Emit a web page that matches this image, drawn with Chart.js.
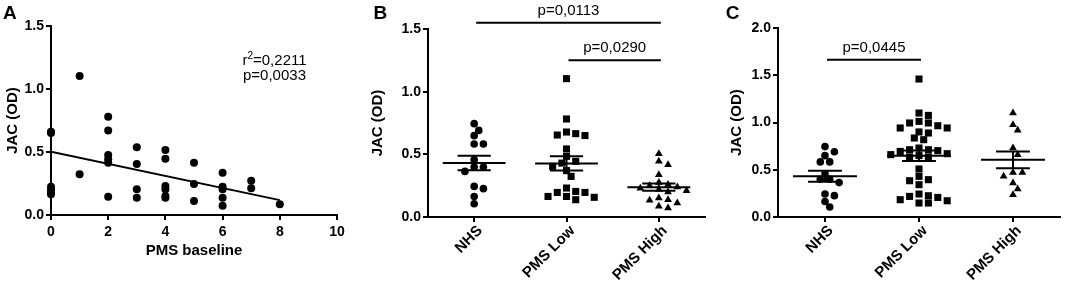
<!DOCTYPE html>
<html>
<head>
<meta charset="utf-8">
<script src="https://cdn.jsdelivr.net/npm/chart.js@4.4.0/dist/chart.umd.min.js"></script>
<style>
  html, body { margin: 0; padding: 0; background: #fff; }
  #wrap { position: relative; width: 1065px; height: 288px; overflow: hidden; }
  canvas { position: absolute; top: 0; }
</style>
</head>
<body>
<div id="wrap">
  <canvas id="chartA" width="360" height="288" style="left:0px"></canvas>
  <canvas id="chartB" width="350" height="288" style="left:360px"></canvas>
  <canvas id="chartC" width="355" height="288" style="left:710px"></canvas>
</div>
<script>
// A: JAC vs PMS baseline
const pmsBaseline = [0, 0, 0, 0, 0, 0, 1, 1, 2, 2, 2, 2, 2, 2, 3, 3, 3, 3, 4, 4, 4, 4, 4, 4, 5, 5, 5, 6, 6, 6, 6, 6, 7, 7, 8];
const jacA = [0.66, 0.65, 0.225, 0.20, 0.18, 0.165, 1.103, 0.323, 0.78, 0.67, 0.476, 0.442, 0.415, 0.145,
  0.537, 0.405, 0.204, 0.137, 0.516, 0.447, 0.23, 0.204, 0.151, 0.137, 0.415, 0.246, 0.111,
  0.336, 0.225, 0.204, 0.137, 0.074, 0.272, 0.212, 0.085];
const regIntercept = 0.502;
const regSlope = -0.048;
const regRange = [0, 8];
const statsA = ['r', '2', '=0,2211', 'p=0,0033'];

// B and C: groups
const groups = ['NHS', 'PMS Low', 'PMS High'];
const nhs = [0.745, 0.691, 0.649, 0.583, 0.583, 0.457, 0.399, 0.364, 0.399, 0.244, 0.226, 0.164, 0.106];
const pmsLowB = [1.104, 0.782, 0.678, 0.665, 0.654, 0.650, 0.543, 0.484, 0.444, 0.430, 0.404, 0.370, 0.324,
  0.231, 0.204, 0.196, 0.196, 0.164, 0.164, 0.157, 0.138];
const pmsHighB = [0.505, 0.444, 0.417, 0.338, 0.276, 0.260, 0.250, 0.240, 0.230, 0.220, 0.210, 0.200,
  0.152, 0.138, 0.133, 0.112, 0.085, 0.072];
const pmsLowC = [1.46, 1.10, 1.075, 1.012, 0.995, 0.995, 0.966, 0.942, 0.942, 0.90, 0.889, 0.836, 0.818,
  0.73, 0.712, 0.712, 0.702, 0.694, 0.67, 0.66, 0.65, 0.635, 0.635, 0.508, 0.43, 0.395, 0.384, 0.342,
  0.243, 0.225, 0.218, 0.207, 0.183, 0.172, 0.148, 0.148];
const pmsHighC = [1.10, 0.977, 0.917, 0.73, 0.66, 0.472, 0.472, 0.43, 0.36, 0.296, 0.236];
const bracketsB = [
  { from: 0, to: 2, y: 1.55, label: 'p=0,0113' },
  { from: 1, to: 2, y: 1.25, label: 'p=0,0290' }
];
const bracketsC = [{ from: 0, to: 1, y: 1.665, label: 'p=0,0445' }];

const FONT = "'Liberation Sans', Arial, Helvetica, sans-serif";
Chart.defaults.font.family = FONT;
Chart.defaults.color = '#000';

// spread points sideways like a dot plot so they don't overlap
function swarmOffsets(values, pxPerUnit) {
  const gap = 7, step = 0.05, pxPerCat = 94;
  const order = values.map((v, i) => i).sort((a, b) => values[b] - values[a]);
  const placed = [];
  const offsets = [];
  order.forEach(i => {
    const v = values[i];
    for (let k = 0; k < 80; k++) {
      const s = k === 0 ? 0 : (k % 2 ? (k + 1) / 2 : -k / 2);
      const hit = placed.some(p => {
        const dx = (p.s - s) * step * pxPerCat;
        const dy = (p.v - v) * pxPerUnit;
        return dx * dx + dy * dy < gap * gap;
      });
      if (!hit) { placed.push({ s, v }); offsets[i] = s * step; break; }
    }
  });
  return offsets;
}

function dotDataset(values, idx, style, radius, pxPerUnit) {
  const off = swarmOffsets(values, pxPerUnit);
  return {
    type: 'scatter',
    data: values.map((v, i) => ({ x: idx + off[i], y: v })),
    pointStyle: style,
    pointRadius: radius,
    pointBackgroundColor: '#000',
    pointBorderWidth: 0,
    clip: false
  };
}

// mean line with SEM whiskers
function meanSemDataset(values, idx) {
  const n = values.length;
  const m = values.reduce((a, b) => a + b, 0) / n;
  const sd = Math.sqrt(values.reduce((a, b) => a + (b - m) * (b - m), 0) / (n - 1));
  const sem = sd / Math.sqrt(n);
  const w = 0.34, c = 0.18;
  return {
    type: 'line',
    data: [
      { x: idx - w, y: m }, { x: idx + w, y: m }, { x: idx, y: null },
      { x: idx - c, y: m + sem }, { x: idx + c, y: m + sem }, { x: idx, y: null },
      { x: idx - c, y: m - sem }, { x: idx + c, y: m - sem }, { x: idx, y: null },
      { x: idx, y: m + sem }, { x: idx, y: m - sem }
    ],
    borderColor: '#000',
    borderWidth: 2,
    pointRadius: 0,
    spanGaps: false,
    fill: false,
    clip: false
  };
}

function yAxis(max, titlePad, width) {
  return {
    type: 'linear',
    min: 0, max: max,
    ticks: { stepSize: 0.5, padding: 2, font: { size: 14, weight: 'bold' }, color: '#000',
      callback: v => v.toFixed(1) },
    grid: { display: true, drawOnChartArea: false, drawTicks: true, tickLength: 5, color: '#000', lineWidth: 2 },
    border: { display: true, color: '#000', width: 2 },
    title: { display: true, text: 'JAC (OD)', font: { size: 15, weight: 'bold' }, color: '#000',
      padding: { top: titlePad, bottom: 0 } },
    afterFit: s => { s.width = width; }
  };
}

function groupAxis(height) {
  return {
    type: 'linear',
    min: -0.5, max: 2.5,
    afterBuildTicks: s => { s.ticks = groups.map((g, i) => ({ value: i })); },
    ticks: { autoSkip: false, minRotation: 45, maxRotation: 45, padding: 0, labelOffset: 6,
      font: { size: 15, weight: 'bold' }, color: '#000', callback: v => groups[v] },
    grid: { display: true, drawOnChartArea: false, drawTicks: true, tickLength: 5, color: '#000', lineWidth: 2 },
    border: { display: true, color: '#000', width: 2 },
    afterFit: s => { s.height = height; }
  };
}

// panel letter, r2 text and significance bars
const panelText = {
  id: 'panelText',
  afterDraw(chart, args, opts) {
    const ctx = chart.ctx;
    ctx.save();
    ctx.fillStyle = '#000';
    ctx.strokeStyle = '#000';
    ctx.textBaseline = 'alphabetic';
    ctx.font = 'bold 19px ' + FONT;
    ctx.textAlign = 'left';
    ctx.fillText(opts.letter, opts.letterX, 18.5);

    if (opts.stats) {
      const [r, sup, rest, p] = opts.stats;
      const cx = 274.5;
      ctx.font = '15px ' + FONT;
      const wr = ctx.measureText(r).width, wRest = ctx.measureText(rest).width;
      ctx.font = '10px ' + FONT;
      const wSup = ctx.measureText(sup).width;
      let x = cx - (wr + wSup + wRest) / 2;
      ctx.font = '15px ' + FONT;
      ctx.fillText(r, x, 64.5);
      ctx.font = '10px ' + FONT;
      ctx.fillText(sup, x + wr, 58.5);
      ctx.font = '15px ' + FONT;
      ctx.fillText(rest, x + wr + wSup, 64.5);
      ctx.textAlign = 'center';
      ctx.fillText(p, cx, 80);
    }

    (opts.brackets || []).forEach(b => {
      const xs = chart.scales.x, ys = chart.scales.y;
      const x1 = xs.getPixelForValue(b.from) + 2, x2 = xs.getPixelForValue(b.to) + 2;
      const y = ys.getPixelForValue(b.y);
      ctx.lineWidth = 2;
      ctx.beginPath();
      ctx.moveTo(x1, y);
      ctx.lineTo(x2, y);
      ctx.stroke();
      ctx.font = '15px ' + FONT;
      ctx.textAlign = 'center';
      ctx.fillText(b.label, (x1 + x2) / 2, y - 8);
    });
    ctx.restore();
  }
};

const baseOptions = {
  responsive: false,
  animation: false,
  events: []
};

// A
new Chart(document.getElementById('chartA'), {
  type: 'scatter',
  data: {
    datasets: [
      {
        type: 'line',
        data: regRange.map(x => ({ x: x, y: regIntercept + regSlope * x })),
        borderColor: '#000', borderWidth: 2, pointRadius: 0, fill: false
      },
      {
        data: pmsBaseline.map((x, i) => ({ x: x, y: jacA[i] })),
        pointStyle: 'circle', pointRadius: 4, pointBackgroundColor: '#000', pointBorderWidth: 0, clip: false
      }
    ]
  },
  options: Object.assign({}, baseOptions, {
    layout: { padding: { left: 0, top: 26, right: 23, bottom: 24 } },
    scales: {
      x: {
        type: 'linear', min: 0, max: 10,
        ticks: { stepSize: 2, padding: 4, font: { size: 14, weight: 'bold' }, color: '#000' },
        grid: { display: true, drawOnChartArea: false, drawTicks: true, tickLength: 5, color: '#000', lineWidth: 2 },
        border: { display: true, color: '#000', width: 2 },
        title: { display: true, text: 'PMS baseline', font: { size: 15, weight: 'bold' }, color: '#000',
          padding: { top: 4, bottom: 4 } },
        afterFit: s => { s.height = 49; }
      },
      y: yAxis(1.5, 4, 51)
    },
    plugins: {
      legend: { display: false }, tooltip: { enabled: false },
      panelText: { letter: 'A', letterX: 3, stats: statsA }
    }
  }),
  plugins: [panelText]
});

// B
const yPxB = 188 / 1.5;
new Chart(document.getElementById('chartB'), {
  type: 'scatter',
  data: {
    datasets: [
      meanSemDataset(nhs, 0), meanSemDataset(pmsLowB, 1), meanSemDataset(pmsHighB, 2),
      dotDataset(nhs, 0, 'circle', 3.8, yPxB),
      dotDataset(pmsLowB, 1, 'rect', 5, yPxB),
      dotDataset(pmsHighB, 2, 'triangle', 4.5, yPxB)
    ]
  },
  options: Object.assign({}, baseOptions, {
    layout: { padding: { left: 0, top: 29, right: 0, bottom: 0 } },
    scales: { x: groupAxis(71), y: yAxis(1.5, 9, 68) },
    plugins: {
      legend: { display: false }, tooltip: { enabled: false },
      panelText: { letter: 'B', letterX: 13.6, brackets: bracketsB }
    }
  }),
  plugins: [panelText]
});

// C
const yPxC = 189 / 2;
new Chart(document.getElementById('chartC'), {
  type: 'scatter',
  data: {
    datasets: [
      meanSemDataset(nhs, 0), meanSemDataset(pmsLowC, 1), meanSemDataset(pmsHighC, 2),
      dotDataset(nhs, 0, 'circle', 3.8, yPxC),
      dotDataset(pmsLowC, 1, 'rect', 5, yPxC),
      dotDataset(pmsHighC, 2, 'triangle', 4.5, yPxC)
    ]
  },
  options: Object.assign({}, baseOptions, {
    layout: { padding: { left: 0, top: 28, right: 2, bottom: 0 } },
    scales: { x: groupAxis(71), y: yAxis(2.0, 18, 68) },
    plugins: {
      legend: { display: false }, tooltip: { enabled: false },
      panelText: { letter: 'C', letterX: 15.8, brackets: bracketsC }
    }
  }),
  plugins: [panelText]
});
</script>
</body>
</html>
